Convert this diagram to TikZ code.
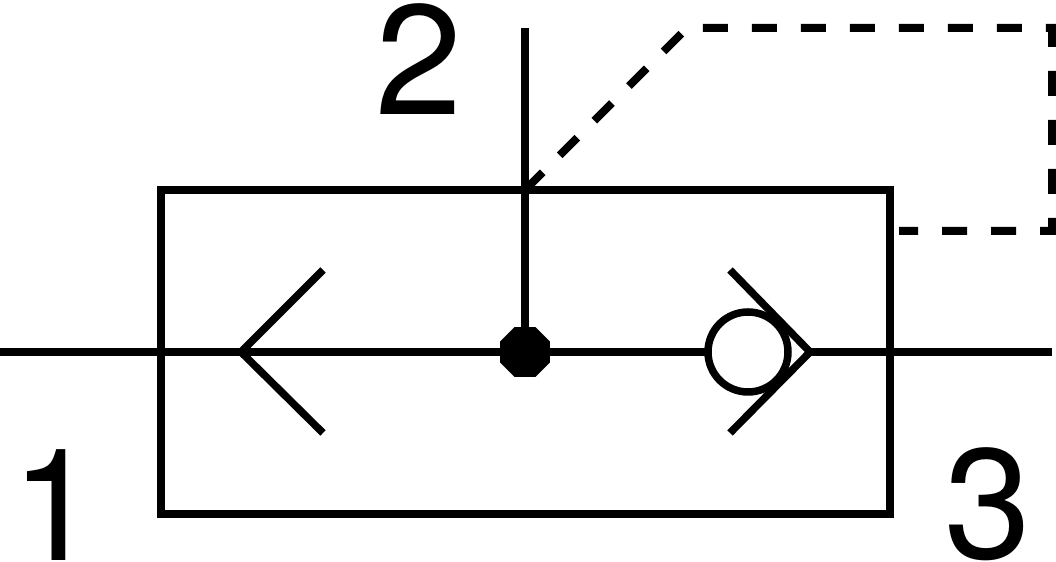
\documentclass[tikz,border=0pt]{standalone}
\usepackage{fontspec}
\setmainfont{TeX Gyre Heros}
\usepackage{tikz}
\usetikzlibrary{positioning, shapes}

\begin{document}
\begin{tikzpicture}[line width=0.15cm]
\def\mainY{4.2}
\def\portSize{\fontsize{89}{89}\selectfont}
\tikzset{portlabel/.style={inner sep=0pt, font=\portSize}}
\useasboundingbox (0,0) rectangle (21.12,11.24);

%Valve body
\node (body) at (10.51,4.2) [draw, rectangle, inner sep=0pt, outer sep=0pt, minimum width=14.58cm, minimum height=6.48cm] {};
\coordinate (bodytop) at (10.5,7.44);

%Ports
\coordinate (port1) at (0,\mainY);
\coordinate (port3) at (21.04,\mainY);
\coordinate (port2) at (10.5,10.68);

%Left seat
\coordinate (tipl) at (4.82,\mainY);
\coordinate (seatla) at (6.46,5.84);
\coordinate (seatlb) at (6.46,2.58);

%Right seat
\coordinate (tipr) at (16.2,\mainY);
\coordinate (seatra) at (14.6,5.84);
\coordinate (seatrb) at (14.6,2.58);

%Junction and ball
\node (dot) at (10.5,\mainY) [fill=black, regular polygon, regular polygon sides=8, inner sep=0pt, outer sep=0pt, minimum size=1.08cm] {};
\node (ball) at (14.96,\mainY) [draw, circle, fill=white, inner sep=0pt, outer sep=0pt, minimum size=1.6cm] {};

\draw (port1) -- (ball.west);
\draw (tipr) -- (port3);
\draw (port2) -- (dot);
\draw (seatla) -- (tipl) -- (seatlb);
\draw (seatra) -- (tipr) -- (seatrb);

%Pilot line
\coordinate (pilota) at (13.74,10.68);
\coordinate (pilotb) at (21.04,10.68);
\coordinate (pilotc) at (21.04,6.62);
\coordinate (pilotd) at (17.98,6.62);
\draw [line width=0.16cm, dash pattern=on 0.5cm off 0.48cm] (bodytop) -- (pilota) -- (pilotb) -- (pilotc) -- (pilotd);

\node (lab1) at (1.1,1.14) [portlabel] {1};
\node (lab2) at (8.38,10.05) [portlabel] {2};
\node (lab3) at (19.75,1.15) [portlabel] {3};

\end{tikzpicture}
\end{document}
